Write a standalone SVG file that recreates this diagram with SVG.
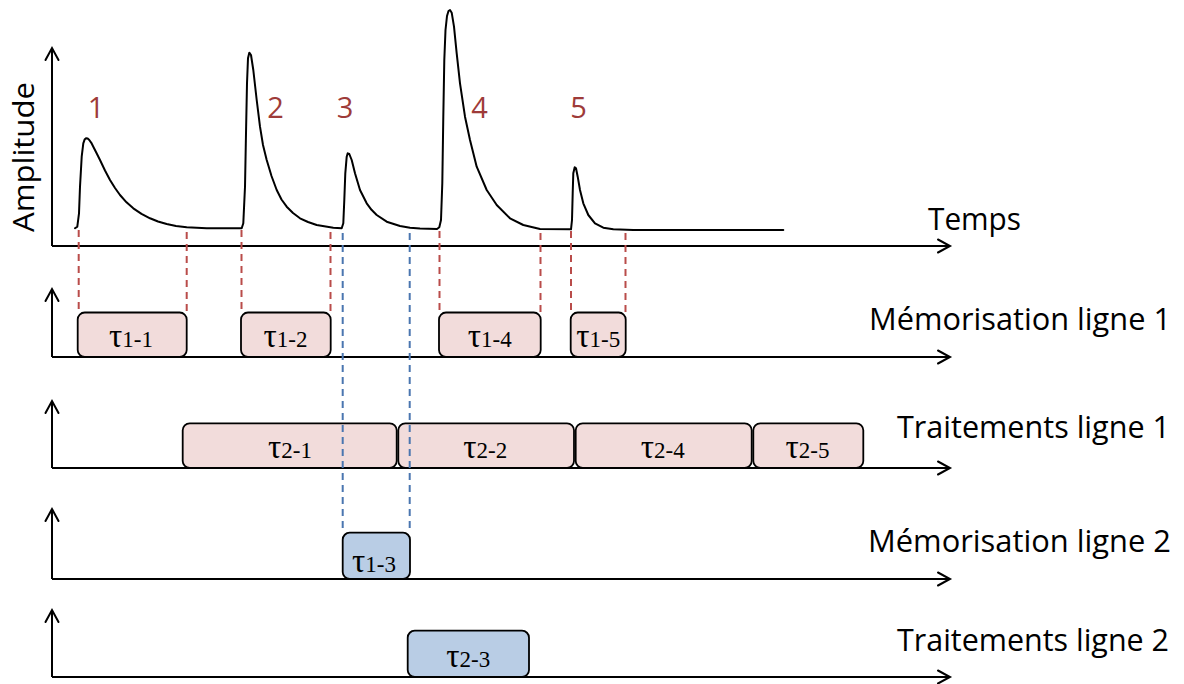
<svg xmlns="http://www.w3.org/2000/svg" width="1184" height="684" viewBox="0 0 1184 684">
<style>
.ax{fill:none;stroke:#000;stroke-width:2;marker-end:url(#arr)}
.sig{fill:none;stroke:#000;stroke-width:2;stroke-linejoin:round;stroke-linecap:round}
.box1{fill:#f2dcdb;stroke:#000;stroke-width:1.8}
.box2{fill:#b9cde5;stroke:#000;stroke-width:1.8}
.rd{stroke:#b94c4a;stroke-width:2;stroke-dasharray:7 5;fill:none}
.bd{stroke:#4a76b0;stroke-width:2;stroke-dasharray:7 5;fill:none}
.lab{font-family:'Open Sans','Liberation Sans',sans-serif;font-size:31px;fill:#000}
.num{font-family:'Open Sans','Liberation Sans',sans-serif;font-size:29px;fill:#9e3b39;text-anchor:middle}
.tau{font-family:'Liberation Serif','Times New Roman',serif;fill:#000;text-anchor:middle}
.tg{font-size:33px}
.ts{font-size:23px}
</style>
<defs>
<marker id="arr" markerUnits="userSpaceOnUse" markerWidth="20" markerHeight="20" viewBox="-14 -10 20 20" refX="0" refY="0" orient="auto">
<path d="M-12,-6.5 L0,0 L-12,6.5" fill="none" stroke="#000" stroke-width="2" stroke-linecap="round" stroke-linejoin="miter"/>
</marker>
</defs>

<g id="axes">
<path class="ax" d="M52,246 L52,48"/>
<path class="ax" d="M52,246 L950,246"/>
<path class="ax" d="M52,357 L52,289"/>
<path class="ax" d="M52,357 L950,357"/>
<path class="ax" d="M52,468 L52,401"/>
<path class="ax" d="M52,468 L950,468"/>
<path class="ax" d="M52,579 L52,509"/>
<path class="ax" d="M52,579 L950,579"/>
<path class="ax" d="M52,677 L52,610"/>
<path class="ax" d="M52,677 L950,677"/>
</g>

<g id="signal">
<path class="sig" d="M75,228.3 L77.3,226.7 79,213.3 80,186.7 81.7,156.7 83.3,143.3 84.6,139.6 86,138.3 87.7,138.6 89.3,140 91.3,142.8 93.3,146.7 96.5,153 100,160 105,170.5 110,180 115,188 120,195 126.5,202.3 133.3,208.3 141.5,213.8 150,218.3 158,221.5 166.7,224 176,226 186.7,227.3 206.7,228.3 241.7,228.3 243.3,223.3 245,186.7 246,133.3 247,83.3 248,58.3 249.3,52.7 251,55 253.3,70 256.7,100 260,126.7 263,145 266.7,160 271.5,176 276.7,190 281.5,199.5 286.7,206.7 293,213 300,218.3 308,222 316.7,225 333.3,227.7 341.7,228.3 343.3,223.3 344.3,200 345.3,173.3 346.7,156.7 347.7,153.3 349.3,154 351.7,160 355,173.3 360,190 366.7,203.3 371.5,209.8 376.7,215 386.7,221.7 400,226 410,227.8 420,228.5 437,229 439.3,227.3 441,220 442.3,183.3 443.3,116.7 444.3,60 445.5,30 447,16 448.5,11 450,10 451.7,12.7 454,26.7 456.7,53.3 460,83.3 465,116.7 470,140 476.7,166.7 486.7,190 496.7,205 510,218.3 523.3,225 540,229 571,229.3 572,220 572.7,193.3 573.3,173.3 574.7,167.3 576,168.3 577.7,176.7 580,190 583.3,203.3 588.3,215 595,223.3 603.3,227.7 613.3,229.3 633.3,230 783.3,230"/>
</g>

<g id="labels">
<text class="lab" transform="translate(34,232) rotate(-90)" textLength="150" lengthAdjust="spacingAndGlyphs" style="font-size:30px">Amplitude</text>
<text class="lab" x="928" y="230" textLength="93" lengthAdjust="spacingAndGlyphs">Temps</text>
<text class="lab" x="869" y="330" textLength="302" lengthAdjust="spacingAndGlyphs">Mémorisation ligne 1</text>
<text class="lab" x="897" y="438" textLength="273" lengthAdjust="spacingAndGlyphs">Traitements ligne 1</text>
<text class="lab" x="868" y="552" textLength="303" lengthAdjust="spacingAndGlyphs">Mémorisation ligne 2</text>
<text class="lab" x="897" y="651" textLength="272" lengthAdjust="spacingAndGlyphs">Traitements ligne 2</text>
<text class="num" x="96" y="118">1</text>
<text class="num" x="275.5" y="118">2</text>
<text class="num" x="345" y="118">3</text>
<text class="num" x="479.5" y="118">4</text>
<text class="num" x="578.5" y="118">5</text>
</g>

<g id="connectors-red">
<path class="rd" d="M78.7,230 V313 M186.7,232 V313 M241.5,230 V313 M330.5,232 V313 M439.5,231 V313 M540.5,233 V313 M571,231 V313 M625.5,233 V313"/>
</g>

<g id="tau1-1"><rect class="box1" x="77.7" y="312.5" width="109" height="44.5" rx="7"/><text class="tau" x="131" y="346.7"><tspan class="tg">τ</tspan><tspan class="ts">1-1</tspan></text></g>
<g id="tau1-2"><rect class="box1" x="241" y="312.5" width="89.7" height="44.5" rx="7"/><text class="tau" x="285.5" y="346.7"><tspan class="tg">τ</tspan><tspan class="ts">1-2</tspan></text></g>
<g id="tau1-4"><rect class="box1" x="439" y="312.5" width="101.7" height="44.5" rx="7"/><text class="tau" x="489.7" y="346.7"><tspan class="tg">τ</tspan><tspan class="ts">1-4</tspan></text></g>
<g id="tau1-5"><rect class="box1" x="570.7" y="312.5" width="55" height="44.5" rx="7"/><text class="tau" x="598.2" y="346.7"><tspan class="tg">τ</tspan><tspan class="ts">1-5</tspan></text></g>

<g id="tau2-1"><rect class="box1" x="182.7" y="423.3" width="214" height="44.7" rx="7"/><text class="tau" x="290" y="458.3"><tspan class="tg">τ</tspan><tspan class="ts">2-1</tspan></text></g>
<g id="tau2-2"><rect class="box1" x="398.3" y="423.3" width="175.7" height="44.7" rx="7"/><text class="tau" x="485.3" y="458.3"><tspan class="tg">τ</tspan><tspan class="ts">2-2</tspan></text></g>
<g id="tau2-4"><rect class="box1" x="575.7" y="423.3" width="176" height="44.7" rx="7"/><text class="tau" x="662.8" y="458.3"><tspan class="tg">τ</tspan><tspan class="ts">2-4</tspan></text></g>
<g id="tau2-5"><rect class="box1" x="753.3" y="423.3" width="110" height="44.7" rx="7"/><text class="tau" x="807.5" y="458.3"><tspan class="tg">τ</tspan><tspan class="ts">2-5</tspan></text></g>

<g id="connectors-blue">
<path class="bd" d="M342.7,233 V533 M409.7,233 V533"/>
</g>

<g id="tau1-3"><rect class="box2" x="342.7" y="532.7" width="67.3" height="46.3" rx="7"/><text class="tau" x="374" y="572"><tspan class="tg">τ</tspan><tspan class="ts">1-3</tspan></text></g>
<g id="tau2-3"><rect class="box2" x="407.7" y="630.7" width="121.3" height="46.3" rx="7"/><text class="tau" x="468.3" y="667"><tspan class="tg">τ</tspan><tspan class="ts">2-3</tspan></text></g>
</svg>
